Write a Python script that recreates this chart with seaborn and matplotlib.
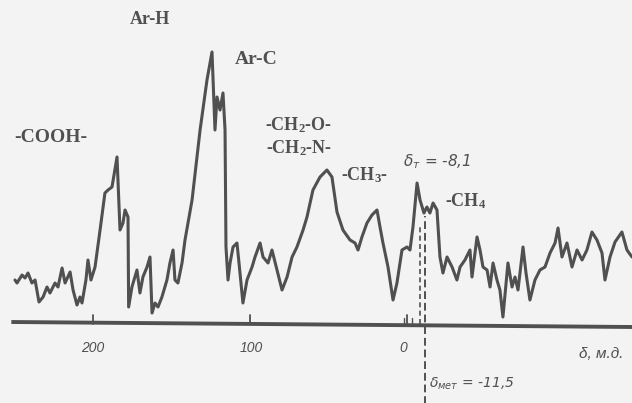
import matplotlib
matplotlib.use("Agg")
import matplotlib.pyplot as plt
import pandas as pd
import seaborn as sns

# Chemical shift (ppm) and signal intensity (arbitrary units) of the spectrum trace
shift_ppm = [249.7, 248.4, 245.2, 243.3, 241.4, 238.9, 236.9, 234.4, 231.8, 229.3,
             227.4, 224.2, 222.3, 219.7, 217.8, 214.6, 212.7, 210.2, 208.3, 207.0,
             204.5, 203.2, 201.3, 198.7, 195.5, 192.4, 190.4, 187.9, 184.7, 182.8,
             180.9, 179.6, 177.7, 177.3, 175.2, 172.0, 170.1, 168.2, 165.6, 163.7,
             162.4, 160.5, 158.6, 156.1, 152.9, 151.0, 149.0, 147.8, 145.9, 143.3,
             141.4, 136.9, 131.8, 127.4, 124.2, 122.3, 121.0, 119.1, 117.2, 115.9,
             115.3, 114.0, 112.7, 110.8, 108.3, 107.0, 104.5, 101.9, 98.7, 96.8,
             93.6, 91.7, 88.5, 86.0, 82.8, 79.6, 76.4, 73.2, 70.1, 66.2,
             63.7, 59.9, 55.4, 51.0, 47.8, 44.6, 40.8, 36.3, 33.1, 31.2,
             28.7, 25.5, 22.3, 19.1, 17.2, 15.3, 12.1, 8.9, 6.4, 3.2,
             0.0, -1.9, -3.8, -6.4, -8.3, -10.8, -12.7, -14.6, -16.6, -19.1,
             -21.0, -22.9, -25.5, -28.7, -31.8, -33.8, -36.9, -40.1, -41.4, -44.6,
             -46.5, -48.4, -51.0, -52.9, -54.8, -57.3, -59.2, -61.1, -64.3, -66.9,
             -68.8, -70.7, -73.9, -75.8, -78.3, -81.5, -84.7, -87.9, -91.1, -94.3,
             -96.2, -98.7, -101.9, -105.1, -108.3, -111.5, -114.6, -117.8, -121.0, -124.2,
             -126.1, -129.3, -132.5, -136.9, -140.1, -143.3]
intensity = [44, 41, 49, 46, 51, 41, 44, 22, 27, 37,
             31, 41, 37, 56, 41, 52, 34, 19, 27, 21,
             44, 64, 44, 57, 94, 131, 134, 137, 167, 94,
             101, 114, 107, 17, 37, 54, 31, 47, 57, 67,
             11, 21, 17, 27, 44, 61, 74, 44, 41, 61,
             84, 124, 194, 244, 272, 194, 227, 214, 231, 194,
             77, 44, 61, 77, 81, 61, 21, 44, 57, 67,
             81, 67, 61, 74, 54, 34, 47, 67, 77, 94,
             107, 134, 147, 154, 147, 112, 94, 84, 81, 74,
             87, 101, 109, 114, 97, 81, 57, 24, 41, 74,
             77, 74, 97, 141, 124, 111, 117, 111, 121, 114,
             67, 51, 67, 57, 44, 57, 64, 74, 47, 87,
             74, 57, 54, 37, 61, 44, 34, 7, 61, 37,
             47, 34, 77, 51, 24, 44, 54, 57, 71, 81,
             96, 67, 81, 57, 74, 64, 74, 92, 84, 71,
             44, 67, 82, 92, 74, 67]

# Axis ticks
tick_values = [200, 100, 0]
tick_labels = ["200", "100", "0"]
tick_label_nudge = [0.0, -0.5, 2.5]

# Reference shifts
delta_t = -8.1
delta_met = -11.5

ink = "#505050"
paper = "#f3f3f3"

sns.set_theme(style="white")
plt.rcParams["font.family"] = ["Liberation Serif", "DejaVu Serif"]
plt.rcParams["mathtext.default"] = "regular"

fig = plt.figure(figsize=(6.32, 4.03), dpi=100, facecolor=paper)
ax = fig.add_axes([0, 0, 1, 1])
ax.set_facecolor(paper)

df = pd.DataFrame({"shift": shift_ppm, "signal": intensity})
sns.lineplot(data=df, x="shift", y="signal", ax=ax, color=ink, lw=2.2,
             sort=False, estimator=None)

# Horizontal shift axis, slightly tilted as drawn by the recorder
ax.plot([252, -143.5], [2, -3], color=ink, lw=2.8, solid_capstyle="butt")
for t in tick_values:
    ax.plot([t, t], [0, 9], color=ink, lw=1.3)
ax.plot([2, 2], [0, 6], color=ink, lw=1.0)
ax.plot([-3.5, -3.5], [0, 6], color=ink, lw=1.0)

tick_font = dict(family=["Liberation Sans", "DejaVu Sans"], style="italic",
                 fontsize=10, color=ink, ha="center", va="center")
for t, lab, dx in zip(tick_values, tick_labels, tick_label_nudge):
    ax.text(t + dx, -24, lab, **tick_font)
ax.text(-124, -30, "δ, м.д.", family=["Liberation Sans", "DejaVu Sans"],
        style="italic", fontsize=11, color=ink, ha="center", va="center")

# Reference lines
ax.plot([delta_t, delta_t], [0, 98], color=ink, lw=1.2, ls=(0, (3, 2)))
ax.plot([delta_met, delta_met], [-80, 108], color=ink, lw=1.4, ls=(0, (4, 2)))

# Group labels
lab_font = dict(color=ink, ha="center", va="center", fontweight="bold")
ax.text(163.5, 304, "Ar-H", fontsize=13, **lab_font)
ax.text(96, 264, "Ar-C", fontsize=14, **lab_font)
ax.text(227, 186, "-COOH-", fontsize=14, **lab_font)
ax.text(69, 199, "-CH$_2$-O-", fontsize=13, **lab_font)
ax.text(69, 176, "-CH$_2$-N-", fontsize=13, **lab_font)
ax.text(27, 149, "-CH$_3$-", fontsize=13, **lab_font)
ax.text(-37, 123, "-CH$_4$", fontsize=13, **lab_font)
ax.text(-19, 162, "δ$_т$ = -8,1", family=["DejaVu Sans"],
        style="italic", fontsize=11, color=ink, ha="center", va="center")
ax.text(delta_met - 2.5, -60, "δ$_{мет}$ = -11,5",
        family=["DejaVu Sans"], style="italic", fontsize=10, color=ink,
        ha="left", va="center")

ax.set_xlim(407 / 1.57, (407 - 632) / 1.57)
ax.set_ylim(-79, 324)
ax.set_axis_off()

fig.savefig("out.png", dpi=100, facecolor=paper)
